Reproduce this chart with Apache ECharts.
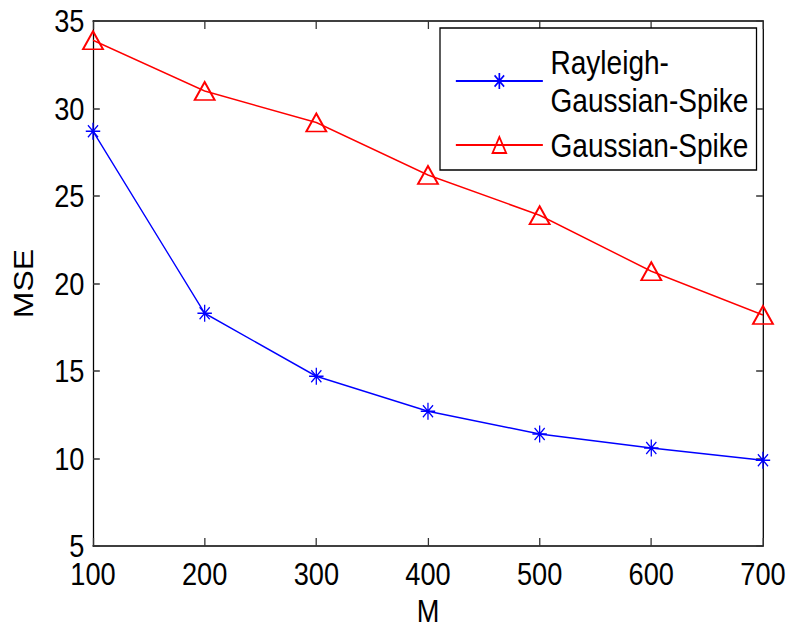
<!DOCTYPE html>
<html>
<head>
<meta charset="utf-8">
<script src="https://cdn.jsdelivr.net/npm/echarts@6/dist/echarts.min.js"></script>
<style>
html,body{margin:0;padding:0;background:#fff;overflow:hidden}
#c{width:927px;height:628px;transform:scaleX(0.85);transform-origin:0 0}
</style>
</head>
<body>
<div id="c"></div>
<script>
var mValues = [100, 200, 300, 400, 500, 600, 700];
var rayleighGaussianSpike = [28.7, 18.3, 14.7, 12.7, 11.4, 10.6, 9.9];
var gaussianSpike = [33.9, 31.0, 29.2, 26.2, 23.9, 20.7, 18.2];
var seriesNames = ['Rayleigh-\nGaussian-Spike', 'Gaussian-Spike'];

// The reference is horizontally compressed (narrow glyphs); the chart is
// drawn wider and squeezed by the same factor with CSS.
var SX = 0.85;
var FONT = '"Liberation Sans", Arial, sans-serif';
function pairs(xs, ys) { return xs.map(function (x, i) { return [x, ys[i]]; }); }

var chart = echarts.init(document.getElementById('c'), null, { renderer: 'svg' });
function axisCommon() {
  return {
    axisLine: { show: true, lineStyle: { color: '#000', width: 1.5 } },
    axisTick: { show: true, inside: true, length: 8, lineStyle: { color: '#333', width: 1.5 } },
    splitLine: { show: false }
  };
}
chart.setOption({
  backgroundColor: '#fff',
  animation: false,
  grid: { left: 93 / SX, right: 25 / SX, top: 21, bottom: 82, containLabel: false, outerBoundsMode: 'none' },
  legend: {
    left: 440 / SX, top: 28,
    orient: 'vertical',
    backgroundColor: '#fff',
    borderColor: '#000', borderWidth: 1.5,
    padding: [15, 8 / SX, 6, 15 / SX],
    itemWidth: 87 / SX, itemHeight: 20, itemGap: 7,
    textStyle: { fontFamily: FONT, fontSize: 33, lineHeight: 38, color: '#000', padding: [0, 0, 0, 4] },
    data: seriesNames
  },
  xAxis: [
    Object.assign({ type: 'value', min: 100, max: 700, interval: 100, position: 'bottom',
      name: 'M', nameLocation: 'middle', nameGap: 48,
      nameTextStyle: { fontFamily: FONT, fontSize: 32, color: '#000' },
      axisLabel: { fontFamily: FONT, fontSize: 32, lineHeight: 24, color: '#000', margin: 16 } }, axisCommon()),
    Object.assign({ type: 'value', min: 100, max: 700, interval: 100, position: 'top',
      axisLabel: { show: false } }, axisCommon())
  ],
  yAxis: [
    Object.assign({ type: 'value', min: 5, max: 35, interval: 5, position: 'left',
      name: 'MSE', nameLocation: 'middle', nameGap: 66,
      nameTextStyle: { fontFamily: FONT, fontSize: 32, color: '#000' },
      axisLabel: { fontFamily: FONT, fontSize: 32, lineHeight: 24, color: '#000', margin: 10 } }, axisCommon()),
    Object.assign({ type: 'value', min: 5, max: 35, interval: 5, position: 'right',
      axisLabel: { show: false } }, axisCommon())
  ],
  series: [
    {
      name: seriesNames[0], type: 'line',
      data: pairs(mValues, rayleighGaussianSpike),
      symbol: 'path://M0,-10L0,10M-10,0L10,0M-7,-7L7,7M-7,7L7,-7',
      symbolSize: [17, 17],
      lineStyle: { color: '#0000ff', width: 1.5 },
      itemStyle: { color: '#0000ff', borderColor: '#0000ff', borderWidth: 1.5 }
    },
    {
      name: seriesNames[1], type: 'line',
      data: pairs(mValues, gaussianSpike),
      symbol: 'triangle', symbolSize: [20 / SX, 18],
      lineStyle: { color: '#ff0000', width: 1.5 },
      itemStyle: { color: 'rgba(255,255,255,0)', borderColor: '#ff0000', borderWidth: 2 }
    }
  ]
});
</script>
</body>
</html>
